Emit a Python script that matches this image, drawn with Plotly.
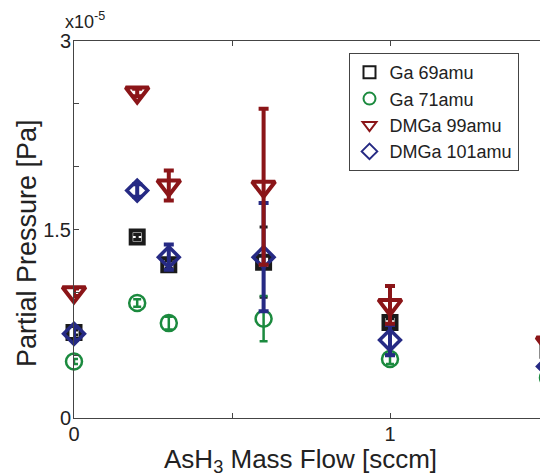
import plotly.graph_objects as go

# x: AsH3 mass flow [sccm]; y: partial pressure in units of 1e-5 Pa
flow = [0.0, 0.2, 0.3, 0.6, 1.0, 1.5]

ga69 = [0.68, 1.44, 1.22, 1.24, 0.76, 0.54]
ga69_err = [0.02, 0.02, 0.03, 0.28, 0.03, 0.02]

ga71 = [0.45, 0.915, 0.755, 0.79, 0.47, 0.32]
ga71_err = [0.02, 0.03, 0.05, 0.18, 0.04, 0.02]

dmga99 = [1.0, 2.59, 1.85, 1.84, 0.90, 0.60]
dmga99_err = [0.03, 0.03, 0.12, 0.62, 0.15, 0.05]

dmga101 = [0.67, 1.81, 1.28, 1.28, 0.62, 0.41]
dmga101_err = [0.05, 0.05, 0.10, 0.43, 0.12, 0.03]

stray_x = [1.105, 1.105]
stray_y = [2.88, 2.77]

x_ticks = [0, 0.5, 1, 1.5]
x_ticktext = ["0", "", "1", ""]
y_ticks = [0, 0.5, 1, 1.5, 2, 2.5, 3]
y_ticktext = ["0", "", "", "1.5", "", "", "3"]

FONT = "Liberation Sans, Arial, sans-serif"
BLACK = "#1a1a1a"
GREEN = "#1b8a3e"
RED = "#8b1518"
BLUE = "#262a84"

# the page body has an 8px margin, so the figure is laid out 8px smaller
OFF = 8
W, H = 548 - OFF, 476 - OFF
L, T, R, B = 74 - OFF, 41 - OFF, 0, H - (418 - OFF)
PW, PH = W - L - R, H - T - B


def px_x(px):  # reference pixel -> paper x
    return (px - 74) / PW


def px_y(py):  # reference pixel -> paper y
    return (418 - py) / PH


fig = go.Figure()


def add(name, y, err, color, symbol, size, lw, ew, cap, rank):
    fig.add_trace(go.Scatter(
        x=flow, y=y, name=name, mode="markers", legendrank=rank,
        cliponaxis=False,
        marker=dict(symbol=symbol, size=size, color=color,
                    line=dict(color=color, width=lw)),
        error_y=dict(type="data", array=err, visible=True, color=color,
                     thickness=ew, width=cap),
    ))


add("Ga 69amu", ga69, ga69_err, BLACK, "square-open", 13, 4, 3, 4, 1)
add("Ga 71amu", ga71, ga71_err, GREEN, "circle-open", 16, 2.5, 2.5, 4, 2)
add("DMGa 101amu", dmga101, dmga101_err, BLUE, "diamond-open", 16, 3.5, 4, 5, 4)
add("DMGa 99amu", dmga99, dmga99_err, RED, "triangle-down-open", 20, 4, 4, 5, 3)

fig.add_trace(go.Scatter(
    x=stray_x, y=stray_y, mode="markers", showlegend=False, hoverinfo="skip",
    marker=dict(symbol="line-ew", size=9, color="#4a90d9",
                line=dict(color="#4a90d9", width=2)),
))

fig.update_layout(
    width=W, height=H,
    margin=dict(l=L, r=R, t=T, b=B, autoexpand=False),
    paper_bgcolor="white", plot_bgcolor="white",
    font=dict(family=FONT, size=20, color="#222222"),
    showlegend=True,
    legend=dict(
        x=px_x(433.5), y=px_y(112), xanchor="center", yanchor="middle",
        bgcolor="white", bordercolor="#444444", borderwidth=1,
        font=dict(family=FONT, size=18, color="#222222"),
        itemsizing="constant",
        tracegroupgap=0,
    ),
    xaxis=dict(
        range=[0, 1.5], tickvals=x_ticks, ticktext=x_ticktext,
        ticks="inside", ticklen=5, tickcolor="#444444",
        showline=True, linecolor="#444444", linewidth=1, mirror="ticks",
        showgrid=False, zeroline=False, ticklabelstandoff=-2,
        tickfont=dict(family=FONT, size=20, color="#222222"),
    ),
    yaxis=dict(
        range=[0, 3], tickvals=y_ticks, ticktext=y_ticktext,
        ticks="inside", ticklen=5, tickcolor="#444444",
        showline=True, linecolor="#444444", linewidth=1, mirror=False,
        showgrid=False, zeroline=False, ticklabelstandoff=-2,
        tickfont=dict(family=FONT, size=20, color="#222222"),
    ),
    annotations=[
        dict(text="AsH<sub>3</sub> Mass Flow [sccm]", xref="paper", yref="paper",
             x=px_x(300), y=px_y(460.5), xanchor="center", yanchor="middle",
             showarrow=False, font=dict(family=FONT, size=26, color="#222222")),
        dict(text="Partial Pressure [Pa]", xref="paper", yref="paper",
             x=px_x(27), y=px_y(243), xanchor="center", yanchor="middle",
             textangle=-90, showarrow=False,
             font=dict(family=FONT, size=27, color="#222222")),
        dict(text="x10<sup>-5</sup>", xref="paper", yref="paper",
             x=px_x(63), y=px_y(21), xanchor="left", yanchor="middle",
             showarrow=False, font=dict(family=FONT, size=18, color="#222222")),
    ],
)

fig.write_html("out.html")
